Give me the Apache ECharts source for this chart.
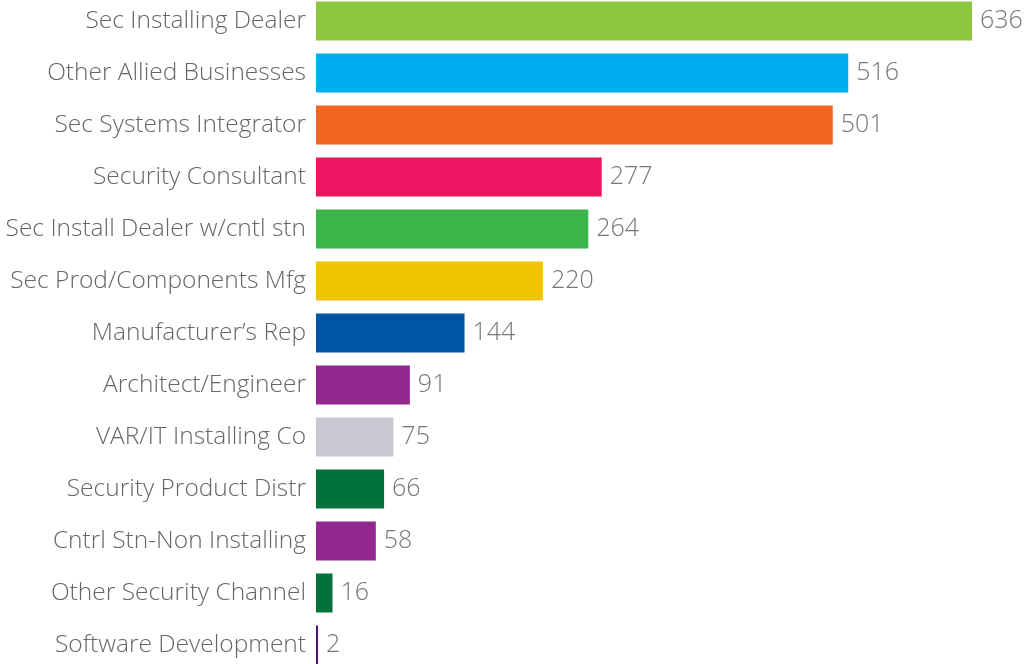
<!DOCTYPE html>
<html><head><meta charset="utf-8">
<script src="https://cdn.jsdelivr.net/npm/echarts@6/dist/echarts.min.js"></script>
<style>html,body{margin:0;padding:0;background:#fff;overflow:hidden;width:1028px;height:664px;position:relative}#c{position:absolute;left:0;top:-5px;width:1060px;height:676px}</style>
</head><body><div id="c"></div>
<script>
const categories = ["Sec Installing Dealer","Other Allied Businesses","Sec Systems Integrator","Security Consultant","Sec Install Dealer w/cntl stn","Sec Prod/Components Mfg","Manufacturer\u2019s Rep","Architect/Engineer","VAR/IT Installing Co","Security Product Distr","Cntrl Stn-Non Installing","Other Security Channel","Software Development"];
const values = [636,516,501,277,264,220,144,91,75,66,58,16,2];
const colors = ["#8DC63F","#00AEEF","#F26522","#ED1561","#3AB54A","#F0C400","#0054A6","#92278F","#C8C8D2","#00733B","#92278F","#00733B","#4B1A6E"];

const chart = echarts.init(document.getElementById('c'));
chart.setOption({
  animation:false,
  grid:{left:316, top:0, width:722, height:676, containLabel:false},
  xAxis:{type:'value', min:0, max:700, show:false},
  yAxis:{type:'category', data:categories, inverse:true,
    axisLine:{show:false}, axisTick:{show:false}, splitLine:{show:false},
    axisLabel:{color:'#666666', fontFamily:'Open Sans', fontWeight:300, fontSize:24.5, margin:10, padding:[5,0,0,0]}},
  series:[{type:'bar', data:values.map((v,i)=>({value:v, itemStyle:{color:colors[i]}})),
    barCategoryGap:'25%',
    label:{show:true, position:'right', distance:8, color:'#777777', fontFamily:'Open Sans', fontWeight:300, fontSize:25, padding:[4,0,0,0]}}]
});
</script></body></html>
